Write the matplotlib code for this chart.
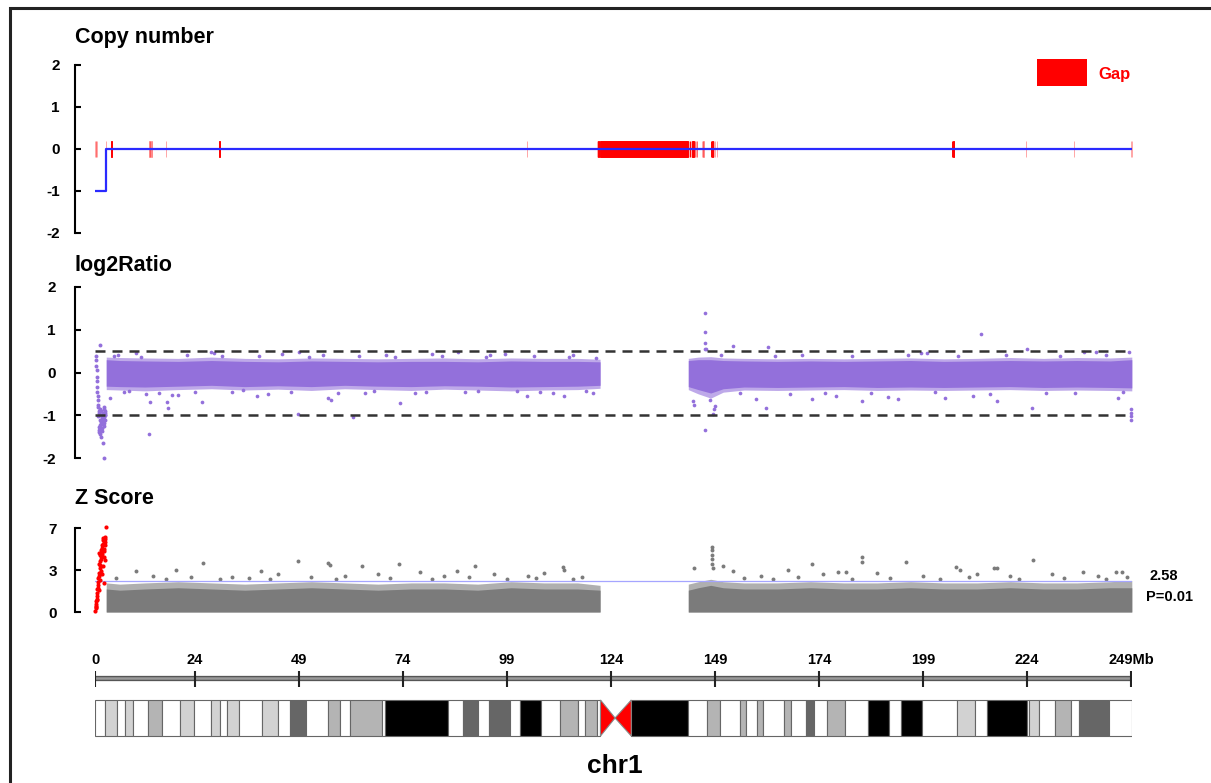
import matplotlib
matplotlib.use('Agg')
import matplotlib.pyplot as plt
from matplotlib.patches import Rectangle, Polygon

plt.rcParams['font.family'] = ['Liberation Sans', 'DejaVu Sans']
plt.rcParams['font.weight'] = 'bold'

# ---- copy number segments (Mb) ----
cn_edges = [0, 2.6, 249.25]
cn_values = [-1, 0]

# ---- gaps (Mb) ----
gap_start = [0.0, 0.177, 0.268, 0.471, 2.634, 3.845, 13.053, 13.220, 13.557, 17.126,
             29.878, 103.864, 120.697, 120.937, 121.485, 142.731, 142.968, 143.293,
             143.545, 143.771, 144.096, 144.224, 144.402, 144.622, 144.711, 145.833,
             146.165, 146.253, 148.026, 148.361, 148.684, 148.954, 149.460, 205.923,
             206.332, 223.748, 235.192, 248.908, 249.241]
gap_end = [0.010, 0.227, 0.318, 0.521, 2.684, 3.995, 13.103, 13.320, 13.607, 17.176,
           30.028, 103.914, 120.747, 121.087, 142.535, 142.781, 143.118, 143.343,
           143.645, 143.871, 144.146, 144.274, 144.452, 144.672, 144.811, 145.883,
           146.215, 146.303, 148.176, 148.511, 148.734, 149.004, 149.510, 206.073,
           206.482, 223.798, 235.242, 248.928, 249.251]

# ---- log2Ratio: dense cloud envelopes ----
l2_left_x = [2.7, 6, 12, 20, 28, 36, 44, 52, 60, 68, 76, 84, 92, 100, 108, 116, 121.4]
l2_left_core_hi = [0.30, 0.28, 0.27, 0.26, 0.28, 0.26, 0.25, 0.27, 0.26, 0.25, 0.26, 0.26, 0.25, 0.27, 0.26, 0.26, 0.25]
l2_left_core_lo = [-0.32, -0.33, -0.34, -0.32, -0.30, -0.33, -0.31, -0.33, -0.30, -0.32, -0.33, -0.31, -0.32, -0.34, -0.33, -0.32, -0.30]
l2_left_fr_hi = [0.36, 0.35, 0.34, 0.33, 0.36, 0.33, 0.32, 0.34, 0.33, 0.32, 0.33, 0.34, 0.32, 0.34, 0.33, 0.33, 0.31]
l2_left_fr_lo = [-0.40, -0.41, -0.43, -0.40, -0.38, -0.41, -0.39, -0.42, -0.38, -0.40, -0.42, -0.39, -0.41, -0.43, -0.41, -0.40, -0.37]

l2_right_x = [142.6, 145, 148, 151, 156, 164, 172, 180, 188, 196, 204, 212, 220, 228, 236, 244, 249.2]
l2_right_core_hi = [0.28, 0.30, 0.30, 0.28, 0.27, 0.26, 0.27, 0.26, 0.27, 0.28, 0.26, 0.27, 0.28, 0.27, 0.28, 0.27, 0.30]
l2_right_core_lo = [-0.33, -0.40, -0.48, -0.38, -0.34, -0.35, -0.34, -0.33, -0.35, -0.34, -0.35, -0.34, -0.33, -0.35, -0.34, -0.35, -0.36]
l2_right_fr_hi = [0.33, 0.36, 0.37, 0.34, 0.33, 0.32, 0.33, 0.32, 0.33, 0.34, 0.32, 0.33, 0.35, 0.33, 0.35, 0.34, 0.36]
l2_right_fr_lo = [-0.40, -0.50, -0.60, -0.46, -0.41, -0.42, -0.41, -0.40, -0.42, -0.41, -0.42, -0.41, -0.40, -0.42, -0.41, -0.42, -0.43]

# log2Ratio single points
l2_out_x = [3.6, 5.5, 7.0, 9.8, 12.2, 13.0, 13.3, 17.3, 17.5, 18.5, 20.0, 22.0, 25.6, 28.0, 28.6,
            33.0, 38.9, 41.5, 45.0, 48.7, 49.0, 54.8, 56.0, 56.8, 62.1, 65.0, 70.0, 73.4, 77.0,
            81.0, 87.2, 92.1, 95.0, 98.6, 103.9, 107.0, 112.8, 115.0, 119.7,
            4.5, 8.2, 11.0, 15.5, 24.0, 30.5, 35.5, 39.5, 47.0, 51.5, 58.5, 63.5, 67.0, 72.0,
            79.5, 83.5, 89.0, 94.0, 101.5, 105.5, 110.0, 114.0, 118.0, 120.5,
            143.8, 144.0, 146.5, 146.5, 146.5, 146.6, 146.9, 146.5, 148.5, 148.8, 149.0, 147.8,
            153.3, 158.9, 161.3, 161.7, 172.4, 178.0, 184.3, 190.5, 193.0, 198.5, 200.0, 204.4,
            211.0, 212.9, 216.8, 223.9, 225.2, 237.7, 240.5, 246.0, 248.5, 249.0, 249.0, 249.0, 249.0,
            150.5, 155.0, 163.5, 167.0, 170.0, 175.5, 182.0, 186.5, 195.5, 202.0, 207.5, 215.0,
            219.0, 228.5, 232.0, 235.5, 243.0, 247.0]
l2_out_y = [-0.59, 0.42, -0.46, 0.45, -0.51, -1.44, -0.70, -0.70, -0.82, -0.52, -0.53, 0.41, -0.68, 0.49, 0.46,
            -0.45, -0.56, -0.50, 0.43, -0.98, 0.48, 0.40, -0.60, -0.64, -1.05, -0.47, 0.42, -0.71, -0.48,
            0.44, 0.49, -0.43, 0.41, 0.44, -0.55, -0.46, -0.55, 0.40, -0.47,
            0.38, -0.44, 0.37, -0.48, -0.45, 0.39, -0.42, 0.38, -0.45, 0.37, -0.47, 0.39, -0.44, 0.36,
            -0.46, 0.38, -0.45, 0.37, -0.44, 0.38, -0.48, 0.36, -0.43, 0.35,
            -0.67, -0.75, 1.39, 0.94, 0.69, 0.55, 0.55, -1.35, -0.98, -0.86, -0.78, -0.65,
            0.63, -0.62, -0.84, 0.59, -0.61, -0.55, -0.66, -0.58, -0.62, 0.45, 0.45, -0.60,
            -0.56, 0.91, -0.66, 0.55, -0.82, 0.47, 0.47, -0.60, 0.47, -0.86, -0.95, -1.02, -1.10,
            0.40, -0.48, 0.38, -0.50, 0.41, -0.47, 0.39, -0.49, 0.40, -0.46, 0.38, -0.50,
            0.41, -0.47, 0.39, -0.49, 0.40, -0.46]

# deleted region at the start (0-2.6 Mb)
del_x = [0.2, 0.3, 0.35, 0.4, 0.45, 0.5, 0.55, 0.6, 0.65, 0.7, 0.75, 0.8, 0.9, 1.0, 1.1, 1.2,
         1.25, 1.3, 1.4, 1.5, 1.6, 1.7, 1.8, 1.9, 2.0, 2.1, 2.2, 2.3, 2.4, 2.5, 0.9, 1.1, 1.3,
         1.5, 1.7, 1.9, 2.1, 2.3, 1.0, 1.4, 2.1, 2.2, 1.2, 1.6, 2.0, 2.4, 1.0, 1.8, 2.2, 0.8]
del_l2 = [0.38, 0.30, 0.15, 0.05, -0.10, -0.20, -0.35, -0.45, -0.55, -0.65, -0.75, -0.80, -0.90,
          -0.95, -1.00, -0.85, 0.65, -1.10, -1.20, -0.90, -1.05, -1.30, -1.00, -1.15, -0.95, -1.25,
          -1.05, -0.90, -1.10, -1.00, -1.40, -1.45, -1.30, -1.50, -1.20, -1.65, -0.85, -1.00, -1.35,
          -1.15, -2.00, -0.80, -1.22, -1.38, -1.12, -0.95, -1.28, -1.08, -1.18, -1.02]

# ---- Z score ----
z_left_x = [2.7, 6, 12, 20, 28, 36, 44, 52, 60, 68, 76, 84, 92, 100, 108, 116, 121.4]
z_left_core = [1.9, 1.8, 1.9, 2.0, 1.9, 1.8, 1.9, 2.0, 1.9, 1.8, 1.9, 1.9, 1.8, 2.0, 1.9, 1.9, 1.8]
z_left_fr = [2.4, 2.3, 2.4, 2.5, 2.4, 2.3, 2.4, 2.5, 2.4, 2.3, 2.4, 2.4, 2.3, 2.5, 2.4, 2.4, 2.2]
z_right_x = [142.6, 145, 148, 151, 156, 164, 172, 180, 188, 196, 204, 212, 220, 228, 236, 244, 249.2]
z_right_core = [1.8, 2.0, 2.2, 2.0, 1.9, 1.9, 2.0, 1.9, 1.9, 2.0, 1.9, 1.9, 2.0, 1.9, 1.9, 2.0, 2.0]
z_right_fr = [2.3, 2.5, 2.7, 2.5, 2.4, 2.4, 2.5, 2.4, 2.4, 2.5, 2.4, 2.4, 2.5, 2.4, 2.4, 2.5, 2.6]

z_out_x = [9.8, 14, 19.4, 26.0, 33, 40, 44, 48.7, 56.0, 56.5, 60, 64.1, 68, 73.0, 78, 84, 87,
           91.4, 96, 104, 108, 112.4, 112.8, 117,
           5, 17, 23, 30, 37, 42, 52, 58, 71, 81, 90, 99, 106, 115,
           144.0, 148.4, 148.4, 148.4, 148.4, 148.4, 148.5, 150.9, 153.3, 160, 166.6, 172.4, 175,
           178.5, 180.5, 184.4, 184.4, 188, 194.9, 199, 206.9, 208.0, 212, 216.0, 216.8, 220,
           225.4, 230, 237.5, 241, 245.5, 246.8,
           156, 163, 169, 182, 191, 203, 210, 222, 233, 243, 248]
z_out_y = [3.4, 3.0, 3.5, 4.08, 2.9, 3.4, 3.1, 4.2, 4.08, 3.9, 3.0, 3.8, 3.1, 3.95, 3.3, 3.0, 3.4,
           3.8, 3.1, 3.0, 3.2, 3.74, 3.5, 2.9,
           2.8, 2.7, 2.9, 2.75, 2.8, 2.7, 2.85, 2.75, 2.8, 2.7, 2.9, 2.75, 2.8, 2.7,
           3.6, 5.4, 5.1, 4.7, 4.4, 4.0, 3.6, 3.8, 3.4, 3.0, 3.45, 4.0, 3.1,
           3.3, 3.3, 4.55, 4.1, 3.2, 4.1, 3.0, 3.7, 3.5, 3.1, 3.6, 3.6, 3.0,
           4.3, 3.1, 3.3, 3.0, 3.3, 3.3,
           2.8, 2.7, 2.9, 2.75, 2.8, 2.7, 2.85, 2.75, 2.8, 2.7, 2.9]

red_x = [0.1, 0.15, 0.2, 0.25, 0.3, 0.35, 0.4, 0.45, 0.5, 0.55, 0.6, 0.65, 0.7, 0.75, 0.8, 0.9,
         1.0, 1.1, 1.2, 1.3, 1.4, 1.5, 1.6, 1.7, 1.8, 1.9, 2.0, 2.1, 2.2, 2.3, 2.4, 2.5, 1.05,
         1.25, 1.45, 1.65, 1.85, 2.05, 2.25, 2.45, 2.6, 1.5, 2.0, 1.2, 2.4, 0.9, 1.7, 2.2, 1.0]
red_z = [0.1, 0.3, 0.5, 0.7, 0.4, 0.9, 1.1, 1.3, 1.0, 1.6, 1.9, 2.2, 2.0, 2.5, 2.8, 3.2, 3.0,
         3.6, 3.9, 4.2, 4.6, 4.4, 5.0, 5.3, 4.8, 5.6, 5.9, 5.2, 5.7, 6.0, 5.5, 5.8, 4.0, 4.7,
         5.1, 5.5, 6.1, 4.5, 5.0, 6.2, 7.0, 3.4, 3.8, 2.6, 4.3, 1.8, 3.1, 2.4, 4.9]
z_threshold = 2.58

# ---- chromosome 1 ideogram (Mb) ----
band_start = [0, 2.3, 5.4, 7.2, 9.2, 12.7, 16.2, 20.4, 23.9, 28.0, 30.0, 31.8, 34.6, 40.1, 44.1,
              46.8, 50.7, 56.1, 59.0, 61.3, 68.9, 69.7, 84.9, 88.4, 92.0, 94.7, 99.7, 102.2,
              107.2, 111.8, 116.1, 117.8, 120.7, 121.5, 125.0, 128.9, 142.6, 147.0, 150.3,
              155.0, 156.5, 159.1, 160.5, 165.5, 167.2, 170.9, 172.9, 176.0, 180.3, 185.8,
              190.8, 193.8, 198.7, 207.2, 211.5, 214.5, 224.1, 224.6, 227.0, 230.7, 234.7,
              236.6, 243.7]
band_end = band_start[1:] + [249.25]
band_stain = ['gneg', 'gpos25', 'gneg', 'gpos25', 'gneg', 'gpos50', 'gneg', 'gpos25', 'gneg',
              'gpos25', 'gneg', 'gpos25', 'gneg', 'gpos25', 'gneg', 'gpos75', 'gneg', 'gpos50',
              'gneg', 'gpos50', 'gneg', 'gpos100', 'gneg', 'gpos75', 'gneg', 'gpos75', 'gneg',
              'gpos100', 'gneg', 'gpos50', 'gneg', 'gpos50', 'gneg', 'acen', 'acen', 'gvar',
              'gneg', 'gpos50', 'gneg', 'gpos50', 'gneg', 'gpos50', 'gneg', 'gpos50', 'gneg',
              'gpos75', 'gneg', 'gpos50', 'gneg', 'gpos100', 'gneg', 'gpos100', 'gneg',
              'gpos25', 'gneg', 'gpos100', 'gneg', 'gpos25', 'gneg', 'gpos50', 'gneg',
              'gpos75', 'gneg']
stain_color = {'gneg': 'white', 'gpos25': '#d2d2d2', 'gpos50': '#b4b4b4',
               'gpos75': '#666666', 'gpos100': 'black', 'gvar': 'black'}

ruler_ticks = [0, 24, 49, 74, 99, 124, 149, 174, 199, 224, 249]
ruler_labels = ['0', '24', '49', '74', '99', '124', '149', '174', '199', '224', '249Mb']

PURPLE = '#9370db'
GRAY = '#7b7b7b'
XMAX = 249.25
W, H = 1211, 783


def rect(top, bottom):
    # axes box from pixel rows, data x 0..XMAX spans pixels 95..1132
    return [95 / W, 1 - bottom / H, 1037 / W, (bottom - top) / H]


def style(ax, ticks, labels, pad):
    for s in ['top', 'right', 'bottom']:
        ax.spines[s].set_visible(False)
    ax.spines['left'].set_position(('outward', 14.4))
    ax.spines['left'].set_linewidth(1.5)
    ax.set_xlim(0, XMAX)
    ax.set_xticks([])
    ax.set_yticks(ticks)
    ax.set_yticklabels(labels)
    ax.tick_params(axis='y', direction='in', length=4, width=1.5, pad=pad, labelsize=11)
    ax.patch.set_alpha(0)


fig = plt.figure(figsize=(12.11, 7.83), dpi=100)

# copy number
ax1 = fig.add_axes(rect(65, 233))
ax1.set_ylim(-2, 2)
style(ax1, [-2, -1, 0, 1, 2], ['-2', '-1', '0', '1', '2'], 11)
ax1.step(cn_edges, cn_values + [cn_values[-1]], where='post', color='#2a2aff', lw=1.6)
for s, e in zip(gap_start, gap_end):
    a = 1.0 if e - s >= 0.1 else 0.35
    ax1.add_patch(Rectangle((s, -0.2), e - s, 0.4, facecolor='red', edgecolor='red',
                            lw=0.7, alpha=a, clip_on=False))
fig.text(75 / W, 1 - 37 / H, 'Copy number', fontsize=15.5, fontweight='bold', va='center')
fig.patches.append(Rectangle((1037 / W, 1 - 86 / H), 50 / W, 27 / H, facecolor='red',
                             edgecolor='none', transform=fig.transFigure))
fig.text(1098 / W, 1 - 74 / H, 'Gap', color='red', fontsize=12, fontweight='bold', va='center')

# log2Ratio
ax2 = fig.add_axes(rect(287, 458))
ax2.set_ylim(-2, 2)
style(ax2, [-2, -1, 0, 1, 2], ['-2', '-1', '0', '1', '2'], 14)
for xs, flo, fhi, clo, chi in [(l2_left_x, l2_left_fr_lo, l2_left_fr_hi, l2_left_core_lo, l2_left_core_hi),
                                (l2_right_x, l2_right_fr_lo, l2_right_fr_hi, l2_right_core_lo, l2_right_core_hi)]:
    ax2.fill_between(xs, flo, fhi, color=PURPLE, alpha=0.6, lw=0)
    ax2.fill_between(xs, clo, chi, color=PURPLE, alpha=1.0, lw=0)
ax2.scatter(l2_out_x, l2_out_y, s=7, color=PURPLE, lw=0, clip_on=False)
ax2.scatter(del_x, del_l2, s=8, color=PURPLE, lw=0, clip_on=False)
for yv in [0.5, -1]:
    ax2.axhline(yv, color='#333333', lw=1.8, linestyle=(0, (4, 2.8)))
fig.text(75 / W, 1 - 265 / H, 'log2Ratio', fontsize=15.5, fontweight='bold', va='center')

# Z score
ax3 = fig.add_axes(rect(528, 612))
ax3.set_ylim(0, 6.93)
style(ax3, [0, 3.465, 6.93], ['0', '3', '7'], 13)
for xs, fr, core in [(z_left_x, z_left_fr, z_left_core), (z_right_x, z_right_fr, z_right_core)]:
    ax3.fill_between(xs, 0, fr, color=GRAY, alpha=0.6, lw=0)
    ax3.fill_between(xs, 0, core, color=GRAY, alpha=1.0, lw=0)
ax3.scatter(z_out_x, z_out_y, s=8, color=GRAY, lw=0, clip_on=False)
ax3.scatter(red_x, red_z, s=9, color='red', lw=0, clip_on=False, zorder=3)
ax3.axhline(z_threshold, color='#a5a5ff', lw=0.9)
fig.text(1150 / W, 1 - 576 / H, '2.58', fontsize=10.5, fontweight='bold', va='center')
fig.text(1146 / W, 1 - 597 / H, 'P=0.01', fontsize=10.5, fontweight='bold', va='center')
fig.text(75 / W, 1 - 499 / H, 'Z Score', fontsize=15.5, fontweight='bold', va='center')

# ruler and ideogram (y in pixel rows)
ax4 = fig.add_axes(rect(640, 745))
ax4.set_xlim(0, XMAX)
ax4.set_ylim(745, 640)
ax4.axis('off')
ax4.plot([0, 249], [678, 678], color='#555555', lw=3.8, solid_capstyle='butt')
ax4.plot([0, 249], [678, 678], color='#9a9a9a', lw=1.8, solid_capstyle='butt')
ax4.vlines(ruler_ticks, 671, 687, color='#222222', lw=1.5)
for t, lab in zip(ruler_ticks, ruler_labels):
    ax4.text(t, 667, lab, ha='center', va='bottom', fontsize=10.5, fontweight='bold')
top, bot = 700, 736
for s, e, st in zip(band_start, band_end, band_stain):
    if st == 'acen':
        continue
    ax4.add_patch(Rectangle((s, top), e - s, bot - top, facecolor=stain_color[st],
                            edgecolor='#666666', lw=0.8))
acen = [(s, e) for s, e, st in zip(band_start, band_end, band_stain) if st == 'acen']
mid = acen[0][1]
ax4.add_patch(Polygon([(acen[0][0], top), (acen[0][0], bot), (mid, (top + bot) / 2)],
                      closed=True, facecolor='red', edgecolor='#888888', lw=0.8))
ax4.add_patch(Polygon([(acen[1][1], top), (acen[1][1], bot), (mid, (top + bot) / 2)],
                      closed=True, facecolor='red', edgecolor='#888888', lw=0.8))
fig.text(615 / W, 1 - 766 / H, 'chr1', fontsize=19, fontweight='bold', ha='center', va='center')

# outer frame
fig.patches.append(Rectangle((10 / W, -0.1), 1.5, 1 - 8 / H + 0.1, fill=False,
                             edgecolor='#222222', lw=2.2, transform=fig.transFigure))

fig.savefig('out.png', dpi=100, facecolor='white')
